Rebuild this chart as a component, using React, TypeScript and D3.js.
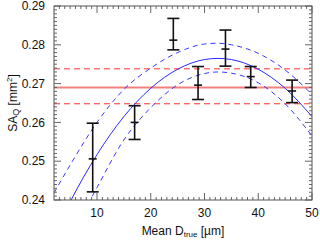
import * as d3 from "d3";

// measured points with error bars
const diamX = [9.2, 17.0, 24.2, 28.8, 33.9, 38.6, 46.3];
const saqMean = [0.2506, 0.26, 0.2812, 0.2696, 0.2789, 0.2718, 0.2681];
const saqLow = [0.2421, 0.2556, 0.2787, 0.2659, 0.2745, 0.269, 0.2651];
const saqHigh = [0.2598, 0.2643, 0.2868, 0.2744, 0.2838, 0.2744, 0.2709];

// quadratic fit and its band
const fitX = [2, 5, 10, 15, 20, 25, 30, 32.5, 35, 40, 45, 50];
const fitY = [0.2309, 0.2395, 0.2517, 0.2615, 0.2688, 0.2737, 0.2762, 0.2765, 0.2762, 0.2737, 0.2688, 0.2615];
const fitUpper = [0.2418, 0.249, 0.26, 0.2685, 0.274, 0.278, 0.2802, 0.2804, 0.28, 0.2778, 0.2735, 0.2672];
const fitLower = [0.22, 0.23, 0.2432, 0.2555, 0.2638, 0.2697, 0.2726, 0.273, 0.2727, 0.2702, 0.2648, 0.2565];

// overall mean and its spread
const meanLine = 0.269;
const meanBand = [0.2648, 0.2738];

const xTicks = [10, 20, 30, 40, 50];
const yTicks = [0.24, 0.25, 0.26, 0.27, 0.28, 0.29];

const W = 320;
const H = 241;
const m = { left: 54, right: 8, top: 6, bottom: 41 };
const font = "'Liberation Sans', Arial, sans-serif";

export default function App() {
  const x = d3.scaleLinear().domain([2, 50]).range([m.left, W - m.right]);
  const y = d3.scaleLinear().domain([0.24, 0.29]).range([H - m.bottom, m.top]);
  const x0 = m.left, x1 = W - m.right, y0 = H - m.bottom, y1 = m.top;

  const line = d3.line<[number, number]>()
    .x(d => x(d[0]))
    .y(d => y(d[1]))
    .curve(d3.curveMonotoneX);

  const fitPath = line(fitX.map((v, i) => [v, fitY[i]]));
  const upPath = line(fitX.map((v, i) => [v, fitUpper[i]]));
  const lowPath = line(fitX.map((v, i) => [v, fitLower[i]]));

  const xMinor = d3.range(3, 50, 1).filter(v => v % 10 !== 0);
  const yMinor = d3.range(1, 50).map(i => 0.24 + i * 0.001).filter((_, i) => (i + 1) % 10 !== 0);

  const tickColor = "#666";

  return (
    <svg width={W} height={H} style={{ position: "absolute", left: 0, top: 0, background: "#fff" }}>
      <defs>
        <clipPath id="plot">
          <rect x={x0} y={y1} width={x1 - x0} height={y0 - y1} />
        </clipPath>
      </defs>

      <g clipPath="url(#plot)">
        {/* mean and its spread */}
        <line x1={x0} x2={x1} y1={y(meanLine)} y2={y(meanLine)} stroke="#f28080" strokeWidth={2} />
        {meanBand.map((v, i) => (
          <line key={i} x1={x0} x2={x1} y1={y(v)} y2={y(v)} stroke="#ff3030" strokeWidth={1} strokeDasharray="6,4" />
        ))}

        {/* fit */}
        <path d={fitPath || ""} fill="none" stroke="#2a2aff" strokeWidth={1} />
        <path d={upPath || ""} fill="none" stroke="#3a3aff" strokeWidth={1} strokeDasharray="5,4" />
        <path d={lowPath || ""} fill="none" stroke="#3a3aff" strokeWidth={1} strokeDasharray="5,4" />

        {/* error bars */}
        {diamX.map((d, i) => {
          const cx = x(d);
          return (
            <g key={i} stroke="#111" strokeWidth={1.6}>
              <line x1={cx} x2={cx} y1={y(saqLow[i])} y2={y(saqHigh[i])} />
              <line x1={cx - 6} x2={cx + 6} y1={y(saqLow[i])} y2={y(saqLow[i])} />
              <line x1={cx - 6} x2={cx + 6} y1={y(saqHigh[i])} y2={y(saqHigh[i])} />
              <line x1={cx - 4} x2={cx + 4} y1={y(saqMean[i])} y2={y(saqMean[i])} />
            </g>
          );
        })}
      </g>

      {/* ticks on all four sides, pointing in */}
      <g stroke={tickColor} strokeWidth={1}>
        {xMinor.map(v => (
          <g key={"xm" + v}>
            <line x1={x(v)} x2={x(v)} y1={y0} y2={y0 - 3} />
            <line x1={x(v)} x2={x(v)} y1={y1} y2={y1 + 3} />
          </g>
        ))}
        {xTicks.map(v => (
          <g key={"xM" + v}>
            <line x1={x(v)} x2={x(v)} y1={y0} y2={y0 - 7} />
            <line x1={x(v)} x2={x(v)} y1={y1} y2={y1 + 7} />
          </g>
        ))}
        {yMinor.map((v, i) => (
          <g key={"ym" + i}>
            <line x1={x0} x2={x0 + 3} y1={y(v)} y2={y(v)} />
            <line x1={x1} x2={x1 - 3} y1={y(v)} y2={y(v)} />
          </g>
        ))}
        {yTicks.map(v => (
          <g key={"yM" + v}>
            <line x1={x0} x2={x0 + 7} y1={y(v)} y2={y(v)} />
            <line x1={x1} x2={x1 - 7} y1={y(v)} y2={y(v)} />
          </g>
        ))}
      </g>
      <rect x={x0} y={y1} width={x1 - x0} height={y0 - y1} fill="none" stroke="#555" strokeWidth={1} />

      {/* tick labels */}
      <g fontFamily={font} fontSize={12} fill="#111">
        {yTicks.map(v => (
          <text key={v} x={x0 - 9} y={y(v)} dy="0.35em" textAnchor="end">{d3.format(".2f")(v)}</text>
        ))}
        {xTicks.map(v => (
          <text key={v} x={x(v)} y={y0 + 17} textAnchor="middle">{v}</text>
        ))}
      </g>

      {/* axis titles */}
      <text x={(x0 + x1) / 2} y={H - 6} textAnchor="middle" fontFamily={font} fontSize={12} fill="#111">
        Mean D<tspan fontSize={8} dy={2}>true</tspan><tspan dy={-2}> [µm]</tspan>
      </text>
      <text transform={`translate(17,${(y0 + y1) / 2}) rotate(-90)`} textAnchor="middle" fontFamily={font} fontSize={12} fill="#111">
        SA<tspan fontSize={9} dy={2}>Q</tspan><tspan dy={-2}> [mm</tspan><tspan fontSize={8} dy={-5}>2</tspan><tspan dy={5}>]</tspan>
      </text>
    </svg>
  );
}
